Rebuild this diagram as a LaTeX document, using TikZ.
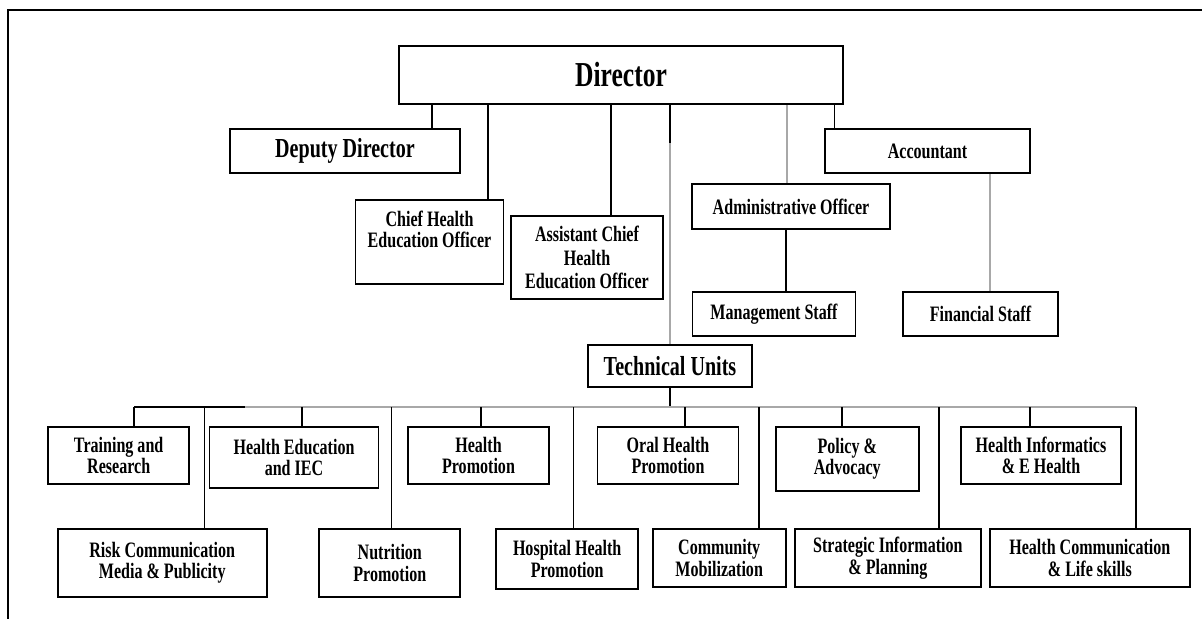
\documentclass[tikz,border=0pt]{standalone}
\usepackage{fontspec}
\setmainfont{Liberation Serif}[FakeStretch=0.73]
\usepackage{tikz}
\usepackage{xcolor}
\usetikzlibrary{positioning}
\definecolor{linegray}{HTML}{A8A8A8}

\begin{document}
\begin{tikzpicture}[x=1pt, y=-1pt, line width=1.7pt]
    \tikzstyle{unit}=[draw, rectangle, line width=1.7pt, inner sep=0pt, align=center, font=\bfseries\fontsize{22}{21.5}\selectfont]
    \tikzstyle{glink}=[linegray, line width=2pt]

    \useasboundingbox (0,0) rectangle (1202,619);
    % frame
    \draw[line width=2pt] (1202,10) -- (8,10) -- (8,619);

    \node[unit, minimum width=444, minimum height=58, font=\bfseries\fontsize{35}{36}\selectfont] (Dir) at (621,75) {Director};
    \node[unit, minimum width=230, minimum height=44, font=\bfseries\fontsize{27.5}{28}\selectfont] (Dep) at (345,151) {Deputy Director};
    \node[unit, minimum width=148, minimum height=84] (CHEO) at (429.5,242) {Chief Health\\Education Officer\\[4pt]\mbox{}};
    \node[unit, minimum width=152, minimum height=83, font=\bfseries\fontsize{22}{23.5}\selectfont] (ACHEO) at (587,257.5) {Assistant Chief\\Health\\Education Officer};
    \node[unit, minimum width=198, minimum height=45] (Adm) at (791,206.5) {Administrative Officer};
    \node[unit, minimum width=205, minimum height=44] (Acc) at (927.5,151) {Accountant};
    \node[unit, minimum width=163, minimum height=44] (Mgt) at (774,314) {Management Staff};
    \node[unit, minimum width=155, minimum height=44] (Fin) at (980.5,314) {Financial Staff};
    \node[unit, minimum width=164, minimum height=42, font=\bfseries\fontsize{27.5}{28}\selectfont] (TU) at (670,366) {Technical Units};

    % first row of units
    \node[unit, minimum width=141, minimum height=57] (TR) at (118.7,455.5) {Training and\\Research};
    \node[unit, minimum width=169, minimum height=61] (HE) at (294,457.5) {Health Education\\and IEC};
    \node[unit, minimum width=141, minimum height=57] (HP) at (478.5,455.5) {Health\\Promotion};
    \node[unit, minimum width=141, minimum height=57] (OHP) at (668,455.5) {Oral Health\\Promotion};
    \node[unit, minimum width=143, minimum height=64] (PA) at (847.3,458.8) {Policy \&\\Advocacy};
    \node[unit, minimum width=160, minimum height=57] (HI) at (1041,455.5) {Health Informatics\\\& E Health};

    % second row of units
    \node[unit, minimum width=209, minimum height=68] (RC) at (162.2,562.8) {Risk Communication\\Media \& Publicity};
    \node[unit, minimum width=141, minimum height=68] (NP) at (389.8,563) {Nutrition\\Promotion};
    \node[unit, minimum width=142, minimum height=60] (HHP) at (567.2,559) {Hospital Health\\Promotion};
    \node[unit, minimum width=133, minimum height=58] (CM) at (719.2,558) {Community\\Mobilization};
    \node[unit, minimum width=186, minimum height=58] (SI) at (887.9,558) {Strategic Information\\\& Planning};
    \node[unit, minimum width=200, minimum height=58] (HC) at (1089.8,558) {Health Communication\\\& Life skills};

    % links from the director
    \foreach \n/\x in {Dep/432, CHEO/488, ACHEO/611, Acc/834.6}
        \draw (Dir.south -| \x,0) -- (\n.north -| \x,0);
    \draw[glink] (Dir.south -| 786.6,0) -- (Adm.north -| 786.6,0);
    \coordinate (tubreak) at (670,143);
    \draw (Dir.south -| tubreak) -- (tubreak);
    \draw[glink] (tubreak) -- (TU.north);

    \draw (Adm.south -| 786,0) -- (Mgt.north -| 786,0);
    \draw[glink] (Acc.south -| 989.7,0) -- (Fin.north -| 989.7,0);

    % bus of the technical units
    \coordinate (busL) at (134,407);
    \coordinate (busK) at (245,407);
    \coordinate (busR) at (1136,407);
    \draw (TU.south) -- (busL -| TU.south);
    \draw (busL) -- (busK);
    \draw[glink] (busK) -- (busR);
    \foreach \n/\x in {TR/134, HE/302, HP/480.7, OHP/685, PA/842, HI/1030, RC/204.4, NP/391.5, HHP/573.6, CM/759.3, SI/939, HC/1136}
        \draw (busL -| \x,0) -- (\n.north -| \x,0);
\end{tikzpicture}
\end{document}
